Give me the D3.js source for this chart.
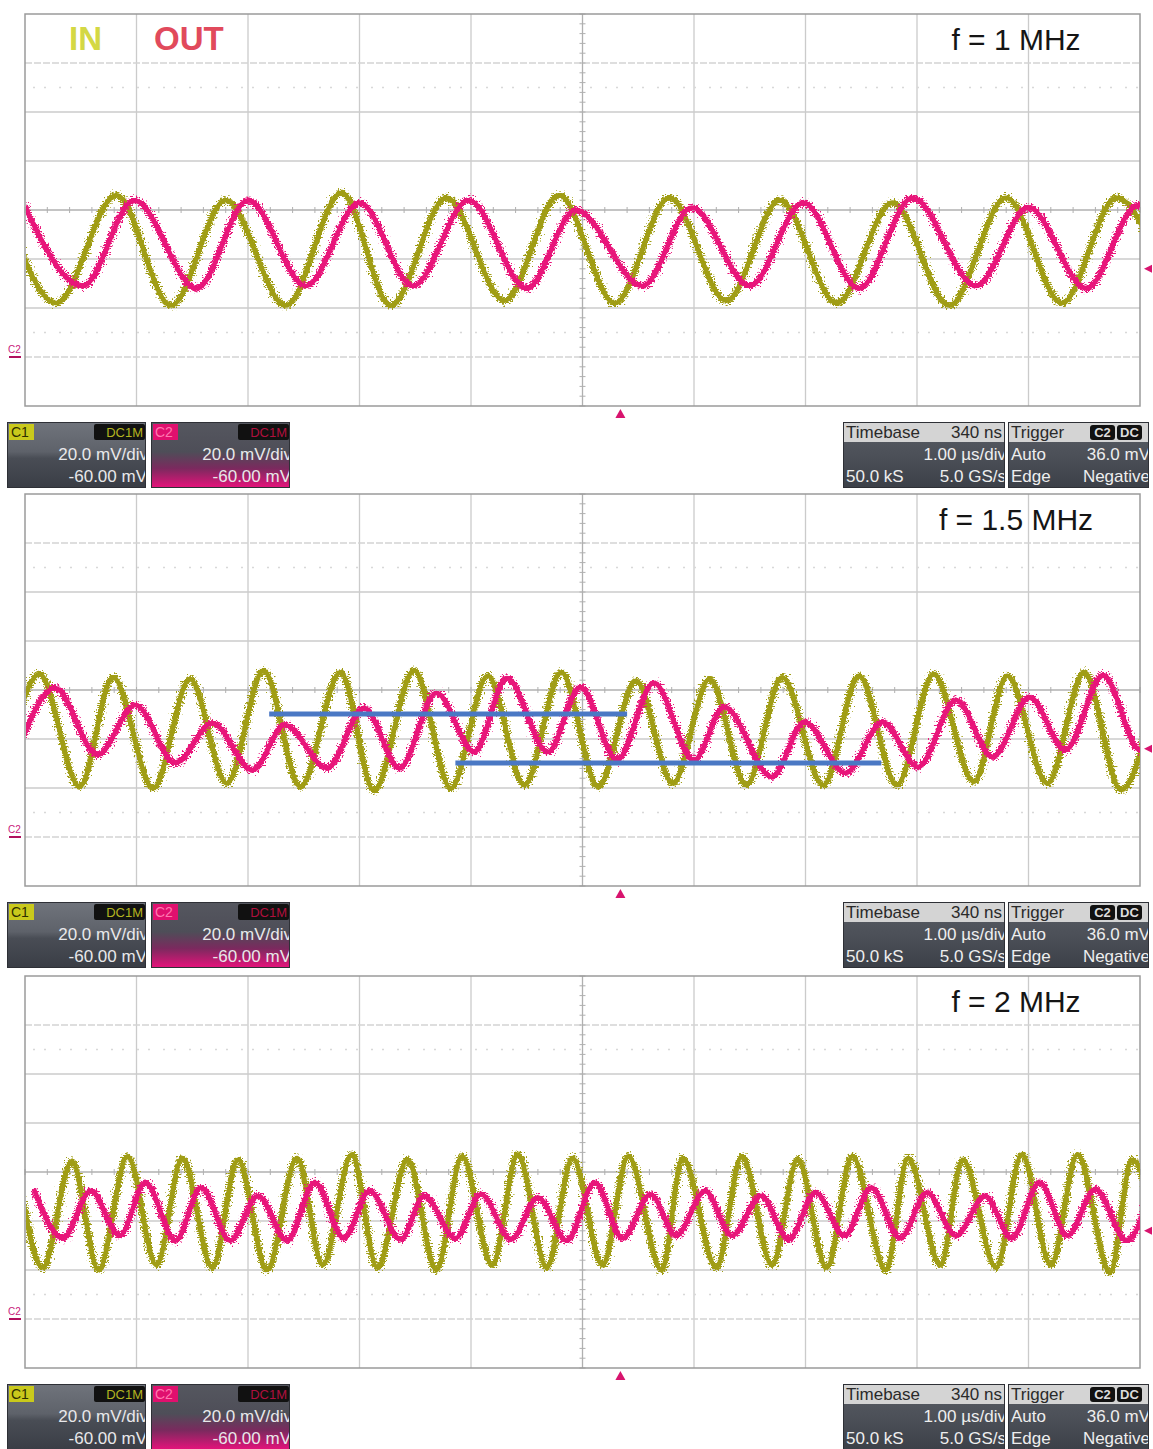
<!DOCTYPE html>
<html><head><meta charset="utf-8">
<script src="https://cdn.jsdelivr.net/npm/d3@7"></script>
<style>
html,body{margin:0;padding:0;background:#fff;}
svg{display:block;font-family:"Liberation Sans",Arial,sans-serif;}
</style></head><body>
<svg id="chart" width="1153" height="1449"></svg>
<script>
// ================= DATA =================
const timeDomain = [-5, 5];      // µs, 1.00 µs/div, 10 divisions
const voltDomain = [-80, 80];    // mV on screen, 20 mV/div, 8 divisions
const seriesNames = ["IN", "OUT"];
const frequencyLabels = ["f = 1 MHz", "f = 1.5 MHz", "f = 2 MHz"];

// extrema of each trace: [time µs, screen mV]
const in1MHz = [[-5.20,5],[-4.72,-38],[-4.18,6],[-3.69,-39],[-3.20,4],[-2.66,-39],[-2.16,7],[-1.72,-39],[-1.22,5],[-0.70,-37],[-0.21,6],[0.29,-38],[0.78,5],[1.29,-37],[1.77,4],[2.28,-38],[2.78,3],[3.29,-39],[3.80,5],[4.30,-38],[4.79,5],[5.29,-38]];
const out1MHz = [[-5.02,3],[-4.48,-31],[-4.02,4],[-3.46,-32],[-3.00,4],[-2.48,-31],[-2.00,3],[-1.52,-31],[-1.02,4],[-0.50,-32],[-0.06,0],[0.54,-31],[0.98,1],[1.50,-31],[1.98,3],[2.48,-32],[2.96,5],[3.53,-31],[4.00,1],[4.52,-32],[4.98,2],[5.50,-31]];

const in15MHz = [[-5.20,-39],[-4.87,6.5],[-4.51,-39.5],[-4.21,5.2],[-3.85,-40.1],[-3.52,4.5],[-3.19,-38.1],[-2.86,7.9],[-2.53,-39.5],[-2.17,7.2],[-1.87,-41],[-1.51,8],[-1.18,-40.1],[-0.85,5.8],[-0.52,-38.8],[-0.19,7.2],[0.14,-39.5],[0.48,3.8],[0.81,-38.1],[1.14,4.5],[1.47,-38.8],[1.79,5.2],[2.16,-38.8],[2.48,5.8],[2.82,-38.8],[3.15,6.5],[3.51,-37.4],[3.81,5.8],[4.17,-38.1],[4.50,7.2],[4.83,-40.8],[5.17,6]];
const out15MHz = [[-5.07,-25.3],[-4.73,0.8],[-4.35,-26.5],[-4.01,-6.1],[-3.65,-29.8],[-3.32,-13.5],[-2.96,-32.7],[-2.67,-14.3],[-2.29,-31.8],[-1.96,-7.3],[-1.64,-31.8],[-1.31,-1.2],[-0.97,-25.3],[-0.68,4.9],[-0.31,-25.3],[-0.02,1.2],[0.31,-28.6],[0.64,2.9],[1.00,-28.6],[1.27,-6.9],[1.70,-35.5],[1.99,-13.1],[2.36,-33.9],[2.69,-13.1],[3.01,-31.4],[3.35,-4.1],[3.68,-27.3],[4.01,-2.9],[4.33,-24.5],[4.67,6.1],[5.00,-24.5],[5.33,3]];

const in2MHz = [[-5.08,5],[-4.84,-39],[-4.58,4.4],[-4.34,-40],[-4.08,6.4],[-3.82,-38],[-3.59,5.7],[-3.32,-39],[-3.09,5],[-2.83,-40],[-2.56,5.7],[-2.33,-38],[-2.07,7.1],[-1.84,-39],[-1.57,5],[-1.31,-40],[-1.08,6.4],[-0.81,-38],[-0.58,7.1],[-0.32,-39],[-0.09,5.7],[0.18,-38],[0.41,6.4],[0.71,-40],[0.90,5.7],[1.20,-39],[1.43,6.4],[1.70,-38],[1.93,5],[2.19,-39],[2.42,6.4],[2.72,-40],[2.92,5.7],[3.21,-38],[3.41,5],[3.71,-39],[3.94,7.1],[4.20,-38],[4.44,7.1],[4.73,-41],[4.93,5],[5.20,-39]];
const out2MHz = [[-4.92,-7],[-4.66,-27],[-4.41,-7.7],[-4.15,-26],[-3.92,-4.3],[-3.65,-28],[-3.42,-6.3],[-3.16,-28],[-2.91,-9.7],[-2.65,-28],[-2.40,-4.3],[-2.14,-27],[-1.91,-7.7],[-1.63,-27.5],[-1.42,-9.7],[-1.14,-27],[-0.91,-9.1],[-0.64,-27.5],[-0.40,-10.4],[-0.14,-28],[0.11,-4.3],[0.36,-27],[0.61,-9.1],[0.84,-26],[1.10,-7.7],[1.34,-26],[1.60,-9.7],[1.85,-27.5],[2.09,-8.4],[2.35,-26],[2.59,-6.3],[2.85,-27],[3.09,-8.4],[3.35,-26],[3.61,-9.7],[3.85,-27],[4.10,-4.3],[4.35,-26],[4.60,-7],[4.88,-28],[5.10,-7]];

const traces = [[in1MHz, out1MHz], [in15MHz, out15MHz], [in2MHz, out2MHz]];

// blue annotation bars on the 1.5 MHz screen: [start µs, end µs, mV]
const blueMarks15MHz = [[-2.81, 0.40, -9.8], [-1.14, 2.68, -29.8]];

// instrument readouts
const channelLabels = ["C1", "C2"];
const couplingLabels = ["DC1M", "DC1M"];
const channelScales = ["20.0 mV/div", "20.0 mV/div"];
const channelOffsets = ["-60.00 mV", "-60.00 mV"];
const timebaseRows = [["Timebase", "340 ns"], ["", "1.00 µs/div"], ["50.0 kS", "5.0 GS/s"]];
const triggerRows = [["Trigger", ""], ["Auto", "36.0 mV"], ["Edge", "Negative"]];
const triggerBadges = ["C2", "DC"];
const triggerDelay = 0.34;     // µs (340 ns)
const triggerLevel = 36.0;     // mV
const ch2Offset = -60.0;       // mV

// ================= DRAWING =================
const svg = d3.select("#chart");
const W = 1153, H = 1449;
const plotL = 25, plotR = 1140, plotH = 392;
const panelTops = [14, 494, 976];
const colIn = "#a09d12", colOut = "#e8147a";
const defs = svg.append("defs");

const fz = defs.append("filter").attr("id", "fuzz")
  .attr("filterUnits", "userSpaceOnUse").attr("x", 0).attr("y", 0).attr("width", W).attr("height", H);
fz.append("feTurbulence").attr("type", "fractalNoise").attr("baseFrequency", "0.5 0.9")
  .attr("numOctaves", 2).attr("seed", 5).attr("result", "n");
fz.append("feDisplacementMap").attr("in", "SourceGraphic").attr("in2", "n")
  .attr("scale", 12).attr("xChannelSelector", "R").attr("yChannelSelector", "G");

// gradients for readout boxes
function grad(id, stops) {
  const g = defs.append("linearGradient").attr("id", id).attr("x1", 0).attr("y1", 0).attr("x2", 0).attr("y2", 1);
  stops.forEach(s => g.append("stop").attr("offset", s[0]).attr("stop-color", s[1]));
}
grad("gGrey", [["0%", "#70747c"], ["45%", "#5e626a"], ["55%", "#494d55"], ["100%", "#3a3d45"]]);
grad("gPink", [["0%", "#55575f"], ["45%", "#4e4e58"], ["70%", "#7a2a5e"], ["100%", "#e8127c"]]);
grad("gDark", [["0%", "#5a5e66"], ["50%", "#4c5058"], ["100%", "#3c4048"]]);

const x = d3.scaleLinear().domain(timeDomain).range([plotL, plotR]);

panelTops.forEach((top, pi) => {
  const y = d3.scaleLinear().domain(voltDomain).range([top + plotH, top]);
  const g = svg.append("g");

  // grid
  const xDivs = d3.range(timeDomain[0] + 1, timeDomain[1], 1).filter(v => v !== 0);
  const yDivs = d3.range(voltDomain[0] + 20, voltDomain[1], 20).filter(v => v !== 0);
  g.selectAll(".vg").data(xDivs).join("line")
    .attr("x1", d => x(d)).attr("x2", d => x(d)).attr("y1", top).attr("y2", top + plotH)
    .attr("stroke", "#cbcbcb").attr("stroke-width", 1.3);
  g.selectAll(".hg").data(yDivs).join("line")
    .attr("x1", plotL).attr("x2", plotR).attr("y1", d => y(d)).attr("y2", d => y(d))
    .attr("stroke", d => Math.abs(d) === 60 ? "#d4d4d4" : "#cbcbcb").attr("stroke-width", 1.3)
    .attr("stroke-dasharray", d => Math.abs(d) === 60 ? "7,2" : null);
  // faint dotted rows at ±2.5 div
  g.selectAll(".dr").data([50, -50]).join("line")
    .attr("x1", plotL + 8).attr("x2", plotR).attr("y1", d => y(d)).attr("y2", d => y(d))
    .attr("stroke", "#d8d8d8").attr("stroke-width", 1.5).attr("stroke-dasharray", "2,9,2,13");
  // centre axes with minor ticks
  g.append("line").attr("x1", x(0)).attr("x2", x(0)).attr("y1", top).attr("y2", top + plotH)
    .attr("stroke", "#b0b0b0").attr("stroke-width", 1.3);
  g.append("line").attr("x1", plotL).attr("x2", plotR).attr("y1", y(0)).attr("y2", y(0))
    .attr("stroke", "#b0b0b0").attr("stroke-width", 1.3);
  g.selectAll(".xt").data(d3.range(-25, 26).map(i => i / 5)).join("line")
    .attr("x1", d => x(d)).attr("x2", d => x(d)).attr("y1", y(0) - 3).attr("y2", y(0) + 3)
    .attr("stroke", "#b0b0b0");
  g.selectAll(".yt").data(d3.range(-20, 21).map(i => i * 4)).join("line")
    .attr("x1", x(0) - 3).attr("x2", x(0) + 3).attr("y1", d => y(d)).attr("y2", d => y(d))
    .attr("stroke", "#b0b0b0");
  g.append("rect").attr("x", plotL).attr("y", top).attr("width", plotR - plotL).attr("height", plotH)
    .attr("fill", "none").attr("stroke", "#9a9a9a").attr("stroke-width", 1.5);

  // traces
  const cid = "clip" + pi;
  defs.append("clipPath").attr("id", cid).append("rect")
    .attr("x", plotL + 1).attr("y", top).attr("width", plotR - plotL - 1).attr("height", plotH);
  const line = d3.line().x(d => x(d[0])).y(d => y(d[1])).curve(d3.curveMonotoneX);
  const tg = g.append("g").attr("clip-path", `url(#${cid})`);
  traces[pi].forEach((series, si) => {
    const col = si === 0 ? colIn : colOut;
    const sg = tg.append("g");
    sg.append("path").attr("d", line(series)).attr("fill", "none").attr("stroke", col)
      .attr("stroke-width", 4.6).attr("stroke-linejoin", "round");
    sg.append("path").attr("d", line(series)).attr("fill", "none").attr("stroke", col)
      .attr("stroke-width", 6).attr("filter", "url(#fuzz)");
  });

  if (pi === 1) {
    g.selectAll(".blue").data(blueMarks15MHz).join("line")
      .attr("x1", d => x(d[0])).attr("x2", d => x(d[1])).attr("y1", d => y(d[2])).attr("y2", d => y(d[2]))
      .attr("stroke", "#4a78c4").attr("stroke-width", 5);
  }

  // legend + frequency label
  if (pi === 0) {
    g.append("text").attr("x", 69).attr("y", top + 36).text(seriesNames[0])
      .attr("font-size", 33).attr("font-weight", "bold").attr("fill", "#d4d844");
    g.append("text").attr("x", 154).attr("y", top + 36).text(seriesNames[1])
      .attr("font-size", 33).attr("font-weight", "bold").attr("fill", "#e14a5c");
  }
  g.append("text").attr("x", 1016).attr("y", top + 36).attr("text-anchor", "middle")
    .attr("font-size", 30).attr("fill", "#151515").text(frequencyLabels[pi]);

  // markers
  const tx = x(triggerDelay);
  g.append("path").attr("d", `M${tx - 5},${top + plotH + 12} L${tx + 5},${top + plotH + 12} L${tx},${top + plotH + 3} Z`)
    .attr("fill", "#d8146e");
  const ly = y(triggerLevel + ch2Offset);
  g.append("path").attr("d", `M${plotR + 4},${ly} L${plotR + 12},${ly - 4} L${plotR + 12},${ly + 4} Z`)
    .attr("fill", "#d8146e");
  const gy = y(ch2Offset);
  g.append("text").attr("x", 8).attr("y", gy - 4).text("C2").attr("font-size", 10).attr("fill", "#c8207a");
  g.append("line").attr("x1", 9).attr("x2", 21).attr("y1", gy).attr("y2", gy)
    .attr("stroke", "#b0105e").attr("stroke-width", 2);

  // readouts
  const by = top + plotH + 16;
  const boxH = 66;
  const chBoxes = [[7, "gGrey", "#c9c91c", "#2e2e00", "#b4b420"], [151, "gPink", "#e0106e", "#ff78b0", "#b0103e"]];
  chBoxes.forEach((cb, ci) => {
    const bx = cb[0], bw = 139;
    const bid = `cb${pi}_${ci}`;
    defs.append("clipPath").attr("id", bid).append("rect").attr("x", bx).attr("y", by).attr("width", bw).attr("height", boxH);
    const bg = g.append("g").attr("clip-path", `url(#${bid})`);
    bg.append("rect").attr("x", bx).attr("y", by).attr("width", bw).attr("height", boxH).attr("fill", `url(#${cb[1]})`);
    bg.append("rect").attr("x", bx + 2).attr("y", by + 2).attr("width", 25).attr("height", 16).attr("fill", cb[2]);
    bg.append("text").attr("x", bx + 4).attr("y", by + 15).text(channelLabels[ci])
      .attr("font-size", 14).attr("fill", cb[3]);
    bg.append("rect").attr("x", bx + 87).attr("y", by + 2).attr("width", 51).attr("height", 16).attr("rx", 2).attr("fill", "#111");
    bg.append("text").attr("x", bx + 136).attr("y", by + 15).attr("text-anchor", "end").text(couplingLabels[ci])
      .attr("font-size", 13).attr("fill", cb[4]);
    bg.append("text").attr("x", bx + bw + 2).attr("y", by + 38).attr("text-anchor", "end").text(channelScales[ci])
      .attr("font-size", 17).attr("fill", "#e8e8ea");
    bg.append("text").attr("x", bx + bw + 1).attr("y", by + 60).attr("text-anchor", "end").text(channelOffsets[ci])
      .attr("font-size", 17).attr("fill", "#e8e8ea");
    bg.append("rect").attr("x", bx + 0.5).attr("y", by + 0.5).attr("width", bw - 1).attr("height", boxH - 1)
      .attr("fill", "none").attr("stroke", "#2e3036");
  });

  const infoBoxes = [[843, 162, timebaseRows], [1008, 141, triggerRows]];
  infoBoxes.forEach((ib, ii) => {
    const bx = ib[0], bw = ib[1], rows = ib[2];
    const bid = `ib${pi}_${ii}`;
    defs.append("clipPath").attr("id", bid).append("rect").attr("x", bx).attr("y", by).attr("width", bw).attr("height", boxH);
    const bg = g.append("g").attr("clip-path", `url(#${bid})`);
    bg.append("rect").attr("x", bx).attr("y", by).attr("width", bw).attr("height", boxH).attr("fill", "url(#gDark)");
    bg.append("rect").attr("x", bx).attr("y", by).attr("width", bw).attr("height", 20).attr("fill", "#d4d4d4");
    rows.forEach((r, ri) => {
      const yy = by + [16, 38, 60][ri];
      const c = ri === 0 ? "#2a2a2a" : "#eeeeee";
      bg.append("text").attr("x", bx + 3).attr("y", yy).text(r[0]).attr("font-size", 17).attr("fill", c);
      bg.append("text").attr("x", bx + bw - (ri === 0 ? 3 : -1)).attr("y", yy).attr("text-anchor", "end")
        .text(r[1]).attr("font-size", 17).attr("fill", c);
    });
    if (ii === 1) {
      triggerBadges.forEach((b, k) => {
        const rx = bx + 82 + k * 27;
        bg.append("rect").attr("x", rx).attr("y", by + 3).attr("width", 25).attr("height", 15).attr("rx", 3).attr("fill", "#111");
        bg.append("text").attr("x", rx + 12.5).attr("y", by + 15).attr("text-anchor", "middle").text(b)
          .attr("font-size", 13).attr("font-weight", "bold").attr("fill", "#dcdcdc");
      });
    }
    bg.append("rect").attr("x", bx + 0.5).attr("y", by + 0.5).attr("width", bw - 1).attr("height", boxH - 1)
      .attr("fill", "none").attr("stroke", "#2e3036");
  });
});
</script>
</body></html>
